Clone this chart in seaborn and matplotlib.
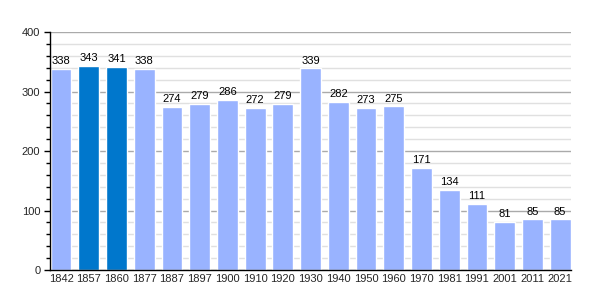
import matplotlib
matplotlib.use("Agg")
import matplotlib.pyplot as plt
import seaborn as sns
import pandas as pd
from matplotlib.ticker import MultipleLocator

years = ["1842", "1857", "1860", "1877", "1887", "1897", "1900", "1910", "1920",
         "1930", "1940", "1950", "1960", "1970", "1981", "1991", "2001", "2011", "2021"]
population = [338, 343, 341, 338, 274, 279, 286, 272, 279,
              339, 282, 273, 275, 171, 134, 111, 81, 85, 85]
highlight = ["1857", "1860"]

sns.set_theme(style="white")
plt.rcParams['font.family'] = ['Liberation Sans', 'DejaVu Sans']

df = pd.DataFrame({"year": years, "pop": population})
df["kind"] = ["dark" if y in highlight else "light" for y in years]

fig = plt.figure(figsize=(6, 3), dpi=100)
ax = fig.add_axes([0.0833, 0.1, 0.8687, 0.7933])

sns.barplot(data=df, x="year", y="pop", hue="kind",
            palette={"light": "#99b3ff", "dark": "#0077cc"},
            width=0.75, dodge=False, legend=False, ax=ax, zorder=3,
            saturation=1)

ax.set_ylim(0, 400)
ax.set_xlim(-0.4, len(years) - 0.6)
ax.yaxis.set_major_locator(MultipleLocator(100))
ax.yaxis.set_minor_locator(MultipleLocator(20))
ax.grid(axis="y", which="major", color="#aaaaaa", linewidth=1, zorder=0)
ax.grid(axis="y", which="minor", color="#e0e0e0", linewidth=1, zorder=0)
ax.set_axisbelow(True)

for s in ["top", "right"]:
    ax.spines[s].set_visible(False)
for s in ["left", "bottom"]:
    ax.spines[s].set_color("black")
    ax.spines[s].set_linewidth(1)
    ax.spines[s].set_zorder(5)

ax.tick_params(axis="y", which="major", length=4, width=1, color="black",
               labelsize=8, pad=3, left=True)
ax.tick_params(axis="y", which="minor", length=3, width=1, color="black", left=True)
ax.tick_params(axis="x", length=0, labelsize=8, pad=3)
ax.set_xlabel("")
ax.set_ylabel("")

for i, v in enumerate(population):
    ax.annotate(str(v), (i, v), xytext=(0, 2), textcoords="offset points",
                ha="center", va="bottom", fontsize=8, color="black")

fig.savefig("out.png", dpi=100)
